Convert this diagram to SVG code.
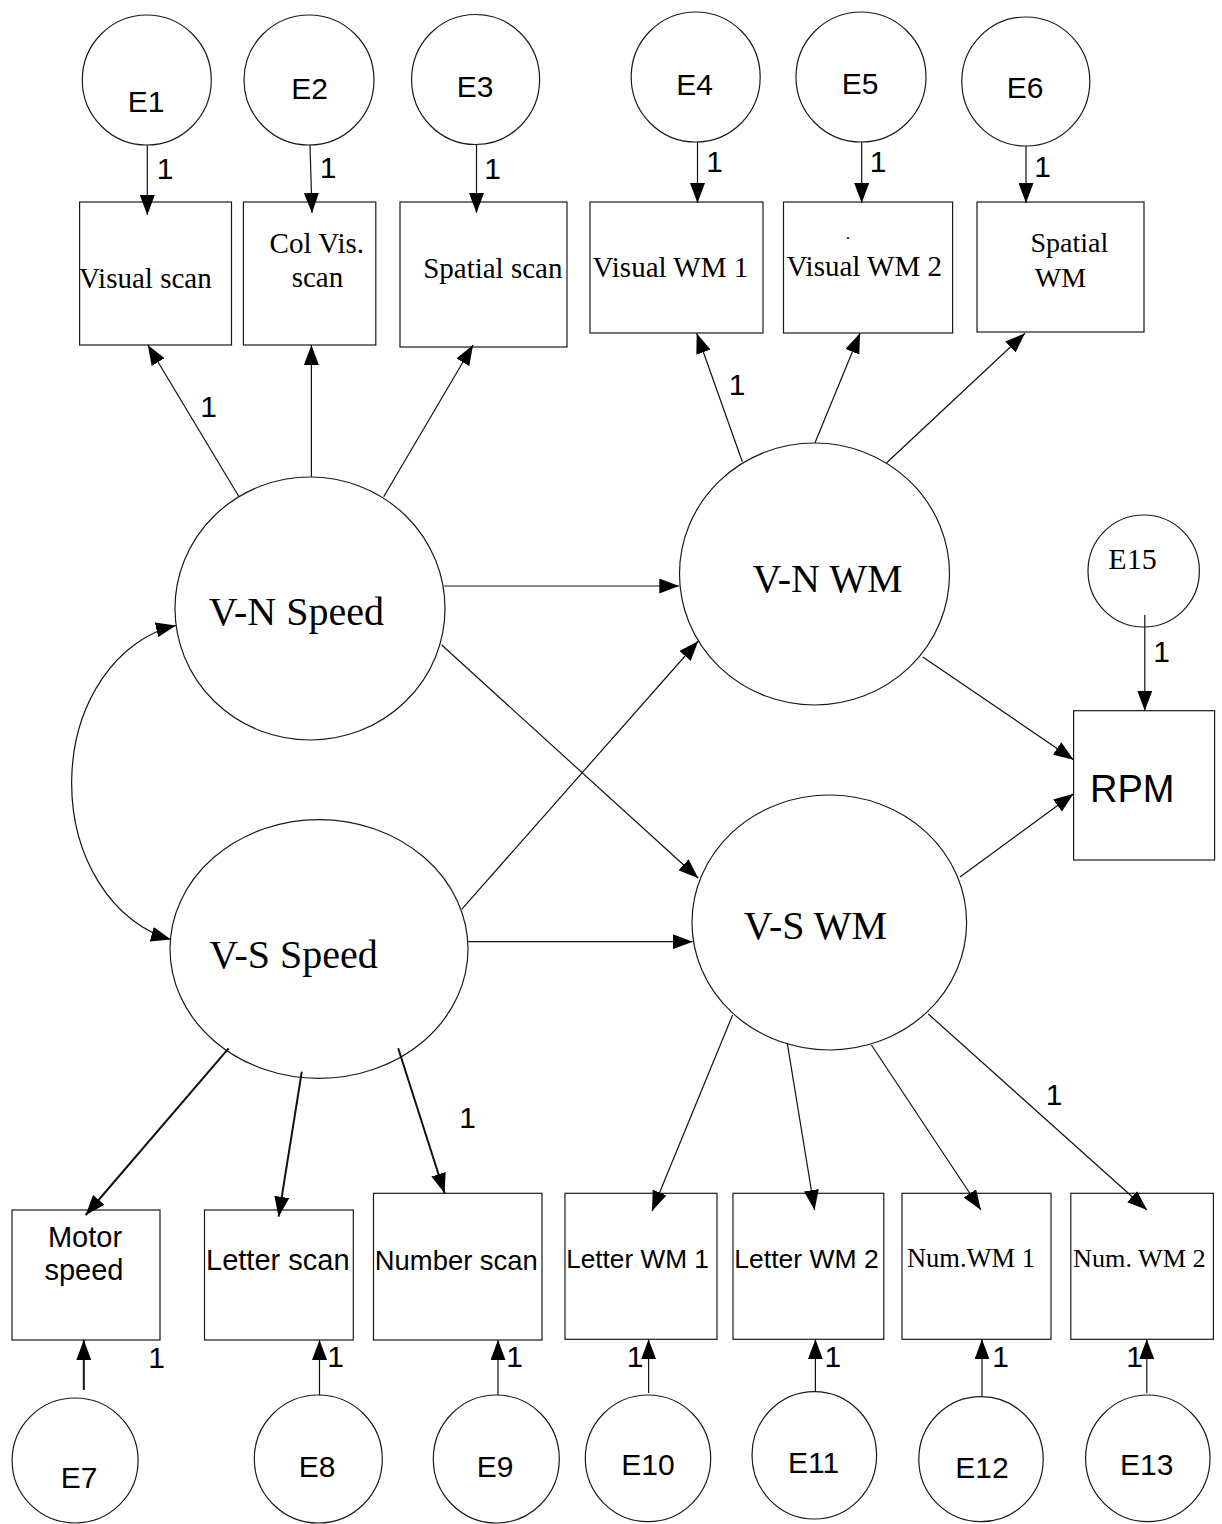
<svg xmlns="http://www.w3.org/2000/svg" width="1222" height="1524" viewBox="0 0 1222 1524">
  <style>
    .shape { fill: #fff; stroke: #1a1a1a; stroke-width: 1.2; }
    .edge { fill: none; stroke: #111; stroke-width: 1.2; }
    .bold { stroke-width: 2; }
    .sans { font-family: "Liberation Sans", Arial, sans-serif; fill: #000; text-anchor: middle; }
    .serif { font-family: "Liberation Serif", "Times New Roman", serif; fill: #000; text-anchor: middle; }
    .err { font-size: 30px; }
    .box { font-size: 29px; }
    .latent { font-size: 40px; }
    .one { font-family: "Liberation Sans", Arial, sans-serif; font-size: 30px; fill: #000; text-anchor: middle; }
  </style>
  <defs>
    <marker id="head" markerUnits="userSpaceOnUse" markerWidth="20" markerHeight="15" refX="20" refY="7.5" orient="auto-start-reverse">
      <path d="M0,0 L20,7.5 L0,15 z" fill="#000"/>
    </marker>
  </defs>
  <rect width="1222" height="1524" fill="#fff"/>

  <!-- top error terms -->
  <g id="E1"><ellipse class="shape" cx="146.8" cy="80" rx="64.5" ry="65"/><text class="sans err" x="146" y="112">E1</text></g>
  <g id="E2"><ellipse class="shape" cx="309" cy="80" rx="65" ry="65"/><text class="sans err" x="309.6" y="99">E2</text></g>
  <g id="E3"><ellipse class="shape" cx="475.6" cy="79.5" rx="64" ry="65"/><text class="sans err" x="475" y="97">E3</text></g>
  <g id="E4"><ellipse class="shape" cx="695.7" cy="77" rx="64.5" ry="65"/><text class="sans err" x="694.6" y="95">E4</text></g>
  <g id="E5"><ellipse class="shape" cx="861" cy="77" rx="65" ry="65"/><text class="sans err" x="860" y="94">E5</text></g>
  <g id="E6"><ellipse class="shape" cx="1025.8" cy="81.5" rx="64" ry="64.5"/><text class="sans err" x="1025" y="98">E6</text></g>

  <!-- top indicators -->
  <g id="visual-scan"><rect class="shape" x="79.6" y="202" width="151.9" height="143"/><text class="serif box" x="145.3" y="288">Visual scan</text></g>
  <g id="col-vis-scan"><rect class="shape" x="243.4" y="202" width="132.4" height="143"/><text class="serif box" x="316.8" y="253">Col Vis.</text><text class="serif box" x="317.4" y="287">scan</text></g>
  <g id="spatial-scan"><rect class="shape" x="400" y="202" width="167" height="145"/><text class="serif box" x="492.8" y="278">Spatial scan</text></g>
  <g id="visual-wm-1"><rect class="shape" x="590" y="202" width="173" height="131"/><text class="serif box" x="670.4" y="277">Visual WM 1</text></g>
  <g id="visual-wm-2"><rect class="shape" x="783.5" y="202" width="169.1" height="131"/><circle cx="848" cy="238" r="1.1" fill="#000"/><text class="serif box" x="864.2" y="276">Visual WM 2</text></g>
  <g id="spatial-wm"><rect class="shape" x="977" y="202" width="167" height="130"/><text class="serif" font-size="28" x="1069.3" y="252">Spatial</text><text class="serif" font-size="28" x="1060.4" y="287">WM</text></g>

  <!-- latent factors -->
  <g id="vn-speed"><ellipse class="shape" cx="310" cy="608.5" rx="135" ry="131.5"/><text class="serif latent" x="296.4" y="624.6">V-N Speed</text></g>
  <g id="vs-speed"><ellipse class="shape" cx="319" cy="949" rx="149" ry="129.3"/><text class="serif latent" x="293.6" y="968">V-S Speed</text></g>
  <g id="vn-wm"><ellipse class="shape" cx="814.5" cy="574" rx="135" ry="131"/><text class="serif latent" x="827.5" y="592">V-N WM</text></g>
  <g id="vs-wm"><ellipse class="shape" cx="829.3" cy="922.5" rx="137.3" ry="127.5"/><text class="serif latent" x="815.4" y="939">V-S WM</text></g>

  <!-- outcome and its residual -->
  <g id="E15"><ellipse class="shape" cx="1143.7" cy="571" rx="55.7" ry="56"/><text class="serif err" x="1132.5" y="569">E15</text></g>
  <g id="rpm"><rect class="shape" x="1073.6" y="710.7" width="141" height="149.3"/><text class="sans" font-size="38" x="1132.3" y="801.7">RPM</text></g>

  <!-- bottom indicators -->
  <g id="motor-speed"><rect class="shape" x="12" y="1210" width="148" height="130"/><text class="sans box" x="85" y="1246.7">Motor</text><text class="sans box" x="84" y="1280">speed</text></g>
  <g id="letter-scan"><rect class="shape" x="204.5" y="1210" width="148.8" height="130"/><text class="sans box" x="277.8" y="1270">Letter scan</text></g>
  <g id="number-scan"><rect class="shape" x="373.5" y="1193.3" width="168.5" height="146.7"/><text class="sans" font-size="27.4" x="456.3" y="1270">Number scan</text></g>
  <g id="letter-wm-1"><rect class="shape" x="565" y="1193.3" width="152" height="146"/><text class="sans" font-size="26.2" x="637.5" y="1268">Letter WM 1</text></g>
  <g id="letter-wm-2"><rect class="shape" x="733" y="1193.3" width="150.8" height="146"/><text class="sans" font-size="26.5" x="806.5" y="1268">Letter WM 2</text></g>
  <g id="num-wm-1"><rect class="shape" x="902" y="1193.3" width="149" height="146"/><text class="serif" font-size="26.5" x="971" y="1267">Num.WM 1</text></g>
  <g id="num-wm-2"><rect class="shape" x="1070.8" y="1193.3" width="142.6" height="146"/><text class="serif" font-size="26.2" x="1139.4" y="1267">Num. WM 2</text></g>

  <!-- bottom error terms -->
  <g id="E7"><ellipse class="shape" cx="75.1" cy="1460.5" rx="63" ry="62.5"/><text class="sans err" x="79" y="1488">E7</text></g>
  <g id="E8"><ellipse class="shape" cx="318.3" cy="1459" rx="64" ry="64"/><text class="sans err" x="317" y="1476.7">E8</text></g>
  <g id="E9"><ellipse class="shape" cx="496.3" cy="1459" rx="63" ry="64"/><text class="sans err" x="495" y="1476.7">E9</text></g>
  <g id="E10"><ellipse class="shape" cx="648" cy="1458.3" rx="62.7" ry="63.3"/><text class="sans err" x="648" y="1475">E10</text></g>
  <g id="E11"><ellipse class="shape" cx="814.3" cy="1455.3" rx="62.3" ry="63.7"/><text class="sans err" x="813.7" y="1472.7">E11</text></g>
  <g id="E12"><ellipse class="shape" cx="981" cy="1459.2" rx="62.2" ry="62.5"/><text class="sans err" x="982" y="1477.7">E12</text></g>
  <g id="E13"><ellipse class="shape" cx="1147.8" cy="1458.3" rx="62.2" ry="63.3"/><text class="sans err" x="1146.8" y="1475">E13</text></g>

  <!-- connectors and their loadings, drawn over the shapes so heads that reach into a box stay visible -->
  <g id="connectors">
    <!-- top error terms into indicators -->
    <line class="edge" x1="147.3" y1="145" x2="147.3" y2="215" marker-end="url(#head)"/>
    <line class="edge" x1="310" y1="145" x2="312" y2="213" marker-end="url(#head)"/>
    <line class="edge" x1="476.5" y1="144" x2="476.5" y2="213" marker-end="url(#head)"/>
    <line class="edge" x1="697.5" y1="142" x2="697.5" y2="203" marker-end="url(#head)"/>
    <line class="edge" x1="861.7" y1="142" x2="861.7" y2="203" marker-end="url(#head)"/>
    <line class="edge" x1="1026" y1="146" x2="1026" y2="203" marker-end="url(#head)"/>

    <!-- V-N Speed loadings -->
    <line class="edge" x1="239" y1="496.7" x2="147.8" y2="345" marker-end="url(#head)"/>
    <line class="edge" x1="311.4" y1="476.7" x2="311.4" y2="345" marker-end="url(#head)"/>
    <line class="edge" x1="383.7" y1="496.7" x2="473" y2="345" marker-end="url(#head)"/>

    <!-- V-N WM loadings -->
    <line class="edge" x1="742.3" y1="461.7" x2="696.7" y2="333.3" marker-end="url(#head)"/>
    <line class="edge" x1="815" y1="442.7" x2="860" y2="333.3" marker-end="url(#head)"/>
    <line class="edge" x1="886.7" y1="462.7" x2="1025" y2="333.3" marker-end="url(#head)"/>

    <!-- structural paths -->
    <line class="edge" x1="444.3" y1="586" x2="679.3" y2="586" marker-end="url(#head)"/>
    <line class="edge" x1="441.7" y1="645" x2="698.3" y2="878.3" marker-end="url(#head)"/>
    <line class="edge" x1="461.7" y1="909.3" x2="698.3" y2="641" marker-end="url(#head)"/>
    <line class="edge" x1="468.3" y1="941.7" x2="692.7" y2="941.7" marker-end="url(#head)"/>
    <line class="edge" x1="922.8" y1="657" x2="1073.6" y2="759.7" marker-end="url(#head)"/>
    <line class="edge" x1="960" y1="877" x2="1073.6" y2="793.7" marker-end="url(#head)"/>
    <line class="edge" x1="1144.8" y1="615" x2="1144.8" y2="710.7" marker-end="url(#head)"/>

    <!-- covariance between the speed factors -->
    <path class="edge" d="M176,625.5 A126,160 0 0 0 171,939.5" marker-start="url(#head)" marker-end="url(#head)"/>

    <!-- V-S Speed loadings -->
    <line class="edge bold" x1="228.6" y1="1048.3" x2="85.7" y2="1215" marker-end="url(#head)"/>
    <line class="edge bold" x1="301.8" y1="1071.7" x2="278.6" y2="1216.7" marker-end="url(#head)"/>
    <line class="edge bold" x1="398.2" y1="1048.3" x2="444.6" y2="1193.3" marker-end="url(#head)"/>

    <!-- V-S WM loadings -->
    <line class="edge" x1="732.6" y1="1015" x2="652" y2="1211" marker-end="url(#head)"/>
    <line class="edge" x1="787.3" y1="1043.3" x2="814.6" y2="1210" marker-end="url(#head)"/>
    <line class="edge" x1="871.4" y1="1045" x2="980.9" y2="1210" marker-end="url(#head)"/>
    <line class="edge" x1="928.3" y1="1014" x2="1147" y2="1210" marker-end="url(#head)"/>

    <!-- bottom error terms into indicators -->
    <line class="edge bold" x1="83.8" y1="1390" x2="83.8" y2="1340" marker-end="url(#head)"/>
    <line class="edge" x1="319.5" y1="1395" x2="319.5" y2="1340" marker-end="url(#head)"/>
    <line class="edge" x1="498" y1="1395" x2="498" y2="1340" marker-end="url(#head)"/>
    <line class="edge" x1="648.6" y1="1393" x2="648.6" y2="1339.3" marker-end="url(#head)"/>
    <line class="edge" x1="815.4" y1="1391.7" x2="815.4" y2="1339.3" marker-end="url(#head)"/>
    <line class="edge" x1="982" y1="1396.7" x2="982" y2="1339.3" marker-end="url(#head)"/>
    <line class="edge" x1="1146.8" y1="1393" x2="1146.8" y2="1339.3" marker-end="url(#head)"/>

    <!-- fixed loadings -->
    <text class="one" x="165" y="179">1</text>
    <text class="one" x="328" y="178">1</text>
    <text class="one" x="492.5" y="179">1</text>
    <text class="one" x="714.5" y="172">1</text>
    <text class="one" x="878" y="172">1</text>
    <text class="one" x="1042.5" y="177">1</text>
    <text class="one" x="208.5" y="416.7">1</text>
    <text class="one" x="737" y="395">1</text>
    <text class="one" x="1161.5" y="662">1</text>
    <text class="one" x="467.5" y="1128">1</text>
    <text class="one" x="1054" y="1105">1</text>
    <text class="one" x="156.5" y="1368">1</text>
    <text class="one" x="335.5" y="1367">1</text>
    <text class="one" x="514.5" y="1367">1</text>
    <text class="one" x="635" y="1367">1</text>
    <text class="one" x="832.8" y="1367">1</text>
    <text class="one" x="1000.5" y="1367">1</text>
    <text class="one" x="1134.5" y="1367">1</text>
  </g>
</svg>
